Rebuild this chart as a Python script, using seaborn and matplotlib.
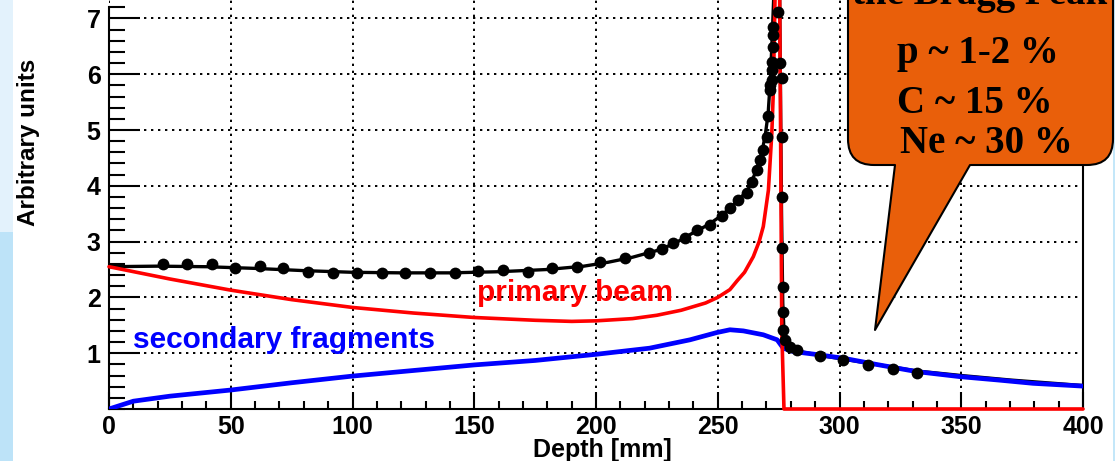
import matplotlib
matplotlib.use("Agg")
import matplotlib.pyplot as plt
import seaborn as sns
from matplotlib.ticker import MultipleLocator
from matplotlib.patches import FancyBboxPatch, Polygon, Rectangle

# measured dose points (black dots)
meas_depth = [22.3, 31.9, 42.2, 51.7, 62.0, 71.6, 81.8, 92.1, 101.7, 112.0, 121.6, 131.8,
              142.1, 151.7, 161.9, 172.2, 181.8, 192.1, 201.6, 211.9, 221.9, 227.0, 231.7,
              236.6, 241.4, 246.8, 251.6, 255.0, 258.4, 261.9, 263.9, 266.0, 267.4, 268.7,
              270.1, 270.8, 271.6, 271.6, 272.2, 272.2, 272.2, 272.8, 272.8, 272.8, 274.9,
              275.6, 276.3, 276.3, 276.3, 276.5, 276.9, 276.9, 276.9, 277.6, 279.7, 282.4,
              292.0, 301.6, 311.8, 321.8, 331.7]
meas_dose = [2.59, 2.60, 2.59, 2.53, 2.56, 2.52, 2.46, 2.44, 2.44, 2.44, 2.44, 2.43,
             2.44, 2.47, 2.50, 2.46, 2.52, 2.55, 2.63, 2.70, 2.79, 2.86, 2.97,
             3.06, 3.21, 3.30, 3.45, 3.60, 3.75, 3.87, 4.07, 4.28, 4.46, 4.64,
             4.88, 5.25, 5.72, 5.81, 5.90, 6.08, 6.22, 6.49, 6.70, 6.85, 7.12,
             6.20, 5.93, 4.88, 3.80, 2.88, 2.19, 1.74, 1.42, 1.24, 1.12, 1.06,
             0.95, 0.88, 0.79, 0.72, 0.65]

# total (sum) curve
total_depth = [0, 20, 40, 60, 80, 100, 120, 140, 160, 180, 195, 205, 215, 225, 232, 240,
               246, 251, 255, 258.5, 262, 264, 266, 268, 269.5, 270.7, 271.6, 272.3, 273,
               274.2, 275.2, 275.7, 276.2, 276.7, 277.3, 278.5, 281, 285, 292, 302, 312,
               322, 332, 350, 370, 385, 400]
total_dose = [2.55, 2.56, 2.55, 2.52, 2.48, 2.45, 2.44, 2.44, 2.46, 2.50, 2.56, 2.63, 2.72,
              2.84, 2.96, 3.16, 3.30, 3.45, 3.60, 3.75, 3.90, 4.08, 4.30, 4.58, 4.90, 5.30,
              5.90, 6.60, 7.40, 8.50, 8.50, 6.00, 3.50, 1.90, 1.30, 1.13, 1.07, 1.02, 0.96,
              0.89, 0.82, 0.75, 0.68, 0.60, 0.52, 0.47, 0.42]

# primary beam
primary_depth = [0, 25, 50, 75, 100, 125, 150, 175, 190, 200, 215, 225, 235, 245, 250, 255,
                 258, 261, 264.6, 267, 268.7, 270.8, 272.2, 272.8, 274, 275, 275.8, 276.3,
                 277.2, 400]
primary_dose = [2.55, 2.33, 2.13, 1.96, 1.82, 1.72, 1.64, 1.59, 1.57, 1.58, 1.62, 1.68, 1.77,
                1.90, 2.00, 2.14, 2.30, 2.45, 2.73, 3.00, 3.27, 3.92, 4.94, 5.66, 8.50, 10.0,
                5.00, 1.40, 0.00, 0.00]

# secondary fragments
secondary_depth = [0, 10, 25, 50, 75, 100, 125, 150, 175, 200, 222, 238.6, 249.6, 255, 260.5,
                   268.7, 274.4, 276.9, 281, 290, 301.6, 315, 331.7, 349.4, 365, 379.5, 400]
secondary_dose = [0.00, 0.14, 0.23, 0.34, 0.47, 0.59, 0.69, 0.79, 0.87, 0.98, 1.09, 1.24, 1.37,
                  1.42, 1.40, 1.33, 1.24, 1.09, 1.03, 0.98, 0.91, 0.80, 0.67, 0.58, 0.52, 0.46,
                  0.41]

x_ticks = [0, 50, 100, 150, 200, 250, 300, 350, 400]
y_ticks = [1, 2, 3, 4, 5, 6, 7]
callout_title = "the Bragg Peak"
callout_lines = ["p ~ 1-2 %", "C ~ 15 %", "Ne ~ 30 %"]

sns.set_style("white", rc={"text.color": "black", "axes.labelcolor": "black",
                           "xtick.color": "black", "ytick.color": "black",
                           "xtick.bottom": True, "ytick.left": True})
plt.rcParams["font.family"] = ["Liberation Sans", "DejaVu Sans"]
plt.rcParams["font.weight"] = "bold"
plt.rcParams["axes.labelweight"] = "bold"

fig = plt.figure(figsize=(11.15, 4.61), dpi=100)

# slide background strips (pixel coords)
bg = fig.add_axes([0, 0, 1, 1], zorder=-1)
bg.set_xlim(0, 1115)
bg.set_ylim(461, 0)
bg.axis("off")
bg.add_patch(Rectangle((0, 0), 13, 232, color="#e3f2fc", lw=0))
bg.add_patch(Rectangle((0, 232), 13, 229, color="#bde3f8", lw=0))
bg.add_patch(Rectangle((1113, 0), 2, 461, color="#c4e7f9", lw=0))

ax = fig.add_axes([109 / 1115, 52 / 461, 974 / 1115, 409 / 461])

sns.lineplot(x=total_depth, y=total_dose, ax=ax, color="black", lw=2.4,
             estimator=None, sort=False, zorder=3)
sns.lineplot(x=secondary_depth, y=secondary_dose, ax=ax, color="#0000ff", lw=3.4,
             estimator=None, sort=False, zorder=4)
sns.lineplot(x=primary_depth, y=primary_dose, ax=ax, color="#ff0000", lw=2.6,
             estimator=None, sort=False, zorder=5, clip_on=False)
sns.scatterplot(x=meas_depth, y=meas_dose, ax=ax, color="black", s=72, linewidth=0, zorder=6)

ax.set_xlim(0, 400)
ax.set_ylim(0, 7.33)
ax.set_xticks(x_ticks)
ax.set_yticks(y_ticks)
ax.xaxis.set_minor_locator(MultipleLocator(10))
ax.yaxis.set_minor_locator(MultipleLocator(0.2))
ax.tick_params(axis="y", which="both", left=True, right=False)
ax.tick_params(axis="x", which="both", bottom=True, top=False)
ax.tick_params(axis="y", which="major", direction="in", length=22, width=1.5, labelsize=18, pad=6)
ax.tick_params(axis="y", which="minor", direction="in", length=11.5, width=1.5)
ax.tick_params(axis="x", which="major", direction="in", length=12, width=1.5, labelsize=18, pad=4)
ax.tick_params(axis="x", which="minor", direction="in", length=6, width=1.5)

ax.set_axisbelow(True)
ax.grid(True, which="major", color="black", linestyle=(0, (1.2, 2.4)), linewidth=1.4)
for s in ax.spines.values():
    s.set_linewidth(1.5)
    s.set_color("black")
ax.spines["top"].set_visible(False)
ax.spines["left"].set_bounds(0, 7.2)
ax.spines["right"].set_bounds(0, 7.2)

ax.set_xlabel("Depth [mm]", fontsize=18, fontweight="bold", ha="right")
ax.xaxis.set_label_coords(0.578, -0.071)
ax.set_ylabel("Arbitrary units", fontsize=17.5, fontweight="bold")
ax.yaxis.label.set_va("center")
ax.yaxis.set_label_coords(-0.083, 0.653)

ax.text(151.0, 1.94, "primary beam", color="#ff0000", fontsize=21.5, ha="left", va="baseline")
ax.text(9.9, 1.09, "secondary fragments", color="#0000ff", fontsize=21.5, ha="left", va="baseline")

# callout bubble (pixel coords)
ov = fig.add_axes([0, 0, 1, 1], zorder=10)
ov.set_xlim(0, 1115)
ov.set_ylim(461, 0)
ov.axis("off")
orange = "#e95f0a"
ov.add_patch(FancyBboxPatch((848, -80), 265, 245, boxstyle="round,pad=0,rounding_size=26",
                            fc=orange, ec="black", lw=1.5, zorder=1))
ov.add_patch(Polygon([(896.8, 150), (875, 330), (978.6, 150)], closed=True,
                     fc=orange, ec="none", zorder=2))
ov.plot([895, 875, 970], [165, 330, 165], color="black", lw=1.5, zorder=3)

serif = ["Liberation Serif", "DejaVu Serif"]
ov.text(1107, 4, callout_title, family=serif, fontsize=28, ha="right", va="baseline", zorder=4)
for (tx, ty), line in zip([(897, 63), (897, 113), (900, 153)], callout_lines):
    ov.text(tx, ty, line, family=serif, fontsize=28, ha="left", va="baseline", zorder=4)

fig.savefig("out.png", dpi=100)
